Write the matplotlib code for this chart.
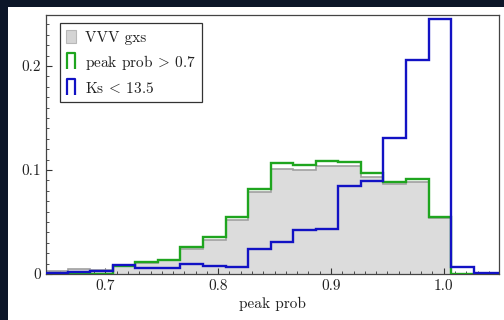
import matplotlib
matplotlib.use("Agg")
import matplotlib.pyplot as plt
import numpy as np
from matplotlib.lines import Line2D
from matplotlib.patches import Patch, Rectangle
from matplotlib.path import Path
from matplotlib.ticker import MultipleLocator, FuncFormatter

# ---- data ----
bin_edges = [0.6465, 0.6665, 0.6865, 0.7065, 0.7265, 0.7465, 0.7665, 0.7865,
             0.8065, 0.8265, 0.8465, 0.8665, 0.8865, 0.9065, 0.9265, 0.9465,
             0.9665, 0.9865, 1.0065, 1.0265, 1.0465, 1.0665]
vvv_gxs = [0.0025, 0.0045, 0.004, 0.008, 0.011, 0.013, 0.024, 0.033, 0.052,
           0.0786, 0.101, 0.100, 0.104, 0.1035, 0.093, 0.0865, 0.088, 0.054,
           0.0, 0.0, 0.0]
peak_gt07 = [0.0, 0.0, 0.0, 0.008, 0.0118, 0.0135, 0.0255, 0.0352, 0.0545,
             0.0814, 0.1064, 0.1048, 0.109, 0.108, 0.0968, 0.0888, 0.0913,
             0.0551, 0.0, 0.0, 0.0]
ks_lt135 = [0.001, 0.002, 0.003, 0.0082, 0.0055, 0.0055, 0.0093, 0.0075,
            0.0064, 0.0237, 0.031, 0.0423, 0.043, 0.0846, 0.0897, 0.1305,
            0.2058, 0.245, 0.007, 0.001, 0.001]
labels = ["VVV gxs", r"peak prob $\!>\!$ 0.7", r"Ks $\!<\!$ 13.5"]
x_ticks = [0.7, 0.8, 0.9, 1.0]
y_ticks = [0.0, 0.1, 0.2]

plt.rcParams['font.family'] = 'serif'
plt.rcParams['font.serif'] = ['cmr10', 'DejaVu Serif']
plt.rcParams['mathtext.fontset'] = 'cm'
plt.rcParams['axes.formatter.use_mathtext'] = True

W, H = 504, 320
fig = plt.figure(figsize=(W / 100, H / 100), dpi=100, facecolor='#0c1628')
fig.patches.append(Rectangle((8 / W, 0), 1 - 8 / W, (H - 7) / H,
                             transform=fig.transFigure, facecolor='white',
                             edgecolor='none', zorder=-10))
ax = fig.add_axes([46 / W, (H - 274) / H, (499 - 46) / W, (274 - 15) / H])
ax.set_facecolor('white')

gray_face = '#dcdcdc'
gray_edge = '#a0a0a0'
green = '#1fa51f'
blue = '#1212c4'

ax.stairs(vvv_gxs, bin_edges, fill=True, facecolor=gray_face, edgecolor='none', zorder=1)
ax.stairs(vvv_gxs, bin_edges, color=gray_edge, linewidth=1.2, zorder=2)
ax.stairs(peak_gt07, bin_edges, color=green, linewidth=1.7, zorder=3)
ax.stairs(ks_lt135, bin_edges, color=blue, linewidth=1.7, zorder=4)

ax.set_xlim(0.6473, 1.049)
ax.set_ylim(0, 0.249)
ax.set_xticks(x_ticks)
ax.set_yticks(y_ticks)
ax.xaxis.set_minor_locator(MultipleLocator(0.01))
ax.yaxis.set_minor_locator(MultipleLocator(0.01))
ax.xaxis.set_major_formatter(FuncFormatter(lambda v, p: f"{v:.1f}"))
ax.yaxis.set_major_formatter(FuncFormatter(lambda v, p: "0" if abs(v) < 1e-9 else f"{v:.1f}"))
ax.tick_params(which='both', direction='in', top=False, right=False,
               colors='#333333', labelcolor='#222222', labelsize=11)
ax.tick_params(which='major', length=4, width=0.8)
ax.tick_params(which='minor', length=2, width=0.6)
for s in ax.spines.values():
    s.set_color('#444444')
    s.set_linewidth(0.9)
ax.set_xlabel("peak prob", fontsize=11, color='#222222', labelpad=3)

open_box = Path([(-0.5, -1), (-0.5, 1), (0.5, 1), (0.5, -1)],
                [Path.MOVETO, Path.LINETO, Path.LINETO, Path.LINETO])
handles = [
    Patch(facecolor='#d4d4d4', edgecolor='#b8b8b8', linewidth=0.8),
    Line2D([], [], linestyle='none', marker=open_box, markersize=11,
           markerfacecolor='none', markeredgecolor=green, markeredgewidth=1.6),
    Line2D([], [], linestyle='none', marker=open_box, markersize=11,
           markerfacecolor='none', markeredgecolor=blue, markeredgewidth=1.6),
]
leg = ax.legend(handles, labels, loc='upper left', bbox_to_anchor=(0.03, 0.97),
                fontsize=11, frameon=True, fancybox=False, edgecolor='#333333',
                framealpha=1, handlelength=0.6, handleheight=1.0,
                handletextpad=0.6, borderpad=0.45, labelspacing=0.55,
                borderaxespad=0.0)
leg.get_frame().set_linewidth(0.9)
for t in leg.get_texts():
    t.set_color('#222222')

fig.savefig("out.png", dpi=100, facecolor=fig.get_facecolor())
